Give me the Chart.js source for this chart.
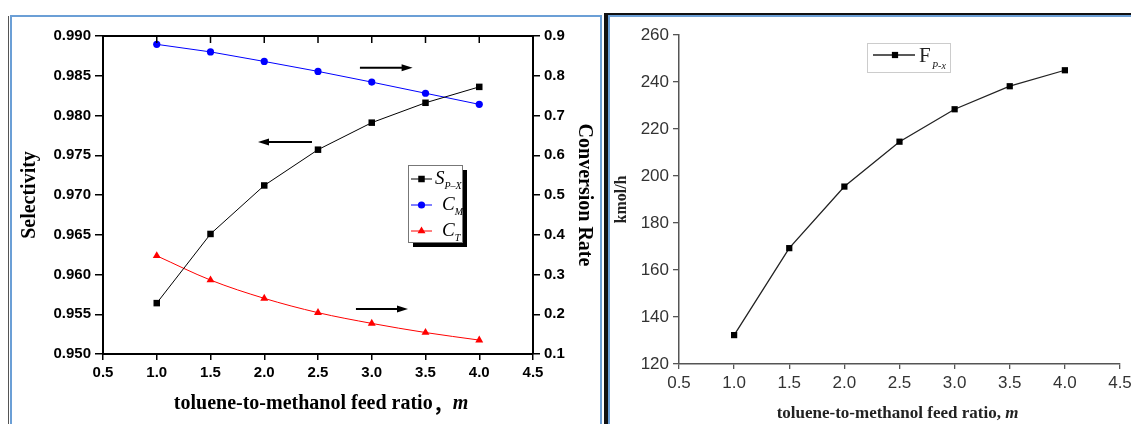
<!DOCTYPE html>
<html>
<head>
<meta charset="utf-8">
<script src="https://cdn.jsdelivr.net/npm/chart.js@4/dist/chart.umd.min.js"></script>
<style>
  body { margin: 0; width: 1131px; height: 424px; overflow: hidden; background: #fff; position: relative; }
  .f { position: absolute; }
  canvas { position: absolute; top: 0; }
</style>
</head>
<body>
<!-- panel frames -->
<div class="f" style="left:8px;top:16px;width:1px;height:408px;background:#555"></div>
<div class="f" style="left:10px;top:15px;width:2px;height:409px;background:#6b9fd6"></div>
<div class="f" style="left:10px;top:15px;width:592px;height:2px;background:#6b9fd6"></div>
<div class="f" style="left:600px;top:15px;width:2px;height:409px;background:#6b9fd6"></div>
<div class="f" style="left:604px;top:13px;width:4px;height:411px;background:#111"></div>
<div class="f" style="left:604px;top:13px;width:527px;height:2px;background:#111"></div>
<div class="f" style="left:608px;top:15px;width:523px;height:2px;background:#6b9fd6"></div>
<div class="f" style="left:608px;top:15px;width:2px;height:409px;background:#6b9fd6"></div>

<canvas id="leftChart" width="600" height="424" style="left:0"></canvas>
<canvas id="rightChart" width="540" height="424" style="left:610px"></canvas>

<script>
// toluene-to-methanol feed ratio m
const ratio = [1.0, 1.5, 2.0, 2.5, 3.0, 3.5, 4.0];
// left chart: selectivity (left axis) and conversion rates (right axis)
const selectivityPX = [0.9564, 0.9651, 0.9712, 0.9757, 0.9791, 0.9816, 0.9836];
const conversionM = [0.879, 0.860, 0.836, 0.811, 0.784, 0.756, 0.728];
const conversionT = [0.347, 0.286, 0.240, 0.204, 0.177, 0.154, 0.135];
// right chart: P-xylene flow, kmol/h
const flowPX = [132.3, 169.3, 195.5, 214.6, 228.4, 238.2, 245.0];

const ratioTicks = [0.5, 1.0, 1.5, 2.0, 2.5, 3.0, 3.5, 4.0, 4.5];
const selectivityTicks = [0.950, 0.955, 0.960, 0.965, 0.970, 0.975, 0.980, 0.985, 0.990];
const conversionTicks = [0.1, 0.2, 0.3, 0.4, 0.5, 0.6, 0.7, 0.8, 0.9];
const flowTicks = [120, 140, 160, 180, 200, 220, 240, 260];

const leftLegendMain = ['S', 'C', 'C'];
const leftLegendSub = ['P\u2013X', 'M', 'T'];

const SANS = "'Liberation Sans', Arial, sans-serif";
const SERIF = "'Liberation Serif', 'Times New Roman', 'Noto Sans CJK SC', serif";

function pts(ys) {
    return ratio.map((x, i) => ({ x: x, y: ys[i] }));
}

function setTicks(list) {
    return s => { s.ticks = list.map(v => ({ value: v })); };
}

function drawRuns(ctx, runs, cx, cy, color) {
    let total = 0;
    runs.forEach(r => { ctx.font = r.font; r.w = ctx.measureText(r.text).width; total += r.w; });
    let x = cx - total / 2;
    ctx.fillStyle = color;
    ctx.textBaseline = 'middle';
    ctx.textAlign = 'left';
    runs.forEach(r => { ctx.font = r.font; ctx.fillText(r.text, x, cy); x += r.w; });
}

function marker(ctx, style, x, y, r, color) {
    ctx.fillStyle = color;
    ctx.beginPath();
    if (style === 'rect') {
        const s = r * Math.SQRT1_2;
        ctx.rect(x - s, y - s, 2 * s, 2 * s);
    } else if (style === 'triangle') {
        ctx.moveTo(x, y - r);
        ctx.lineTo(x + r * 0.866, y + r * 0.5);
        ctx.lineTo(x - r * 0.866, y + r * 0.5);
        ctx.closePath();
    } else {
        ctx.arc(x, y, r, 0, Math.PI * 2);
    }
    ctx.fill();
}

function arrow(ctx, x0, x1, y) {
    const dir = Math.sign(x1 - x0);
    ctx.beginPath();
    ctx.moveTo(x0, y);
    ctx.lineTo(x1 - dir * 8, y);
    ctx.stroke();
    ctx.beginPath();
    ctx.moveTo(x1, y);
    ctx.lineTo(x1 - dir * 11, y - 3.5);
    ctx.lineTo(x1 - dir * 11, y + 3.5);
    ctx.closePath();
    ctx.fill();
}

// frame top, inward top ticks, arrows, legend, x title
const leftDecor = {
    id: 'leftDecor',
    afterDraw(chart) {
        const { ctx, chartArea: a, scales } = chart;
        ctx.save();
        ctx.strokeStyle = '#000';
        ctx.lineWidth = 2;
        ctx.beginPath();
        ctx.moveTo(a.left - 1, a.top);
        ctx.lineTo(a.right + 1, a.top);
        ctx.stroke();
        ctx.lineWidth = 1.5;
        ratioTicks.forEach(v => {
            const px = scales.x.getPixelForValue(v);
            ctx.beginPath();
            ctx.moveTo(px, a.top);
            ctx.lineTo(px, a.top + 7);
            ctx.stroke();
        });

        // arrows (x in ratio units, y on selectivity axis)
        const arrows = [[2.89, 3.38, 0.98601], [2.444, 1.942, 0.97667], [2.853, 3.337, 0.95566]];
        ctx.fillStyle = '#000';
        ctx.lineWidth = 2;
        arrows.forEach(([x0, x1, y]) => {
            arrow(ctx, scales.x.getPixelForValue(x0), scales.x.getPixelForValue(x1), scales.y.getPixelForValue(y));
        });

        // legend box with heavy shadow
        ctx.fillStyle = '#000';
        ctx.fillRect(413, 242, 54, 5);
        ctx.fillRect(462, 170, 5, 77);
        ctx.fillStyle = '#fff';
        ctx.fillRect(408, 165, 54, 77);
        ctx.strokeStyle = '#777';
        ctx.lineWidth = 1;
        ctx.strokeRect(408.5, 165.5, 54, 77);
        const rows = [179, 205, 231];
        chart.data.datasets.forEach((ds, i) => {
            const y = rows[i];
            ctx.strokeStyle = ds.borderColor;
            ctx.lineWidth = 1;
            ctx.beginPath();
            ctx.moveTo(411, y);
            ctx.lineTo(432, y);
            ctx.stroke();
            marker(ctx, ds.pointStyle, 421.5, y, ds.pointRadius, ds.borderColor);
            ctx.fillStyle = '#000';
            ctx.textAlign = 'left';
            ctx.textBaseline = 'middle';
            const tx = i === 0 ? 435 : 442;
            ctx.font = 'italic 19px ' + SERIF;
            ctx.fillText(leftLegendMain[i], tx, y);
            const w = ctx.measureText(leftLegendMain[i]).width;
            ctx.font = 'italic 10px ' + SERIF;
            ctx.fillText(leftLegendSub[i], tx + w, y + 7);
        });

        drawRuns(ctx, [
            { text: 'toluene-to-methanol feed ratio', font: 'bold 20px ' + SERIF },
            { text: '\uFF0C', font: "bold 20px 'Noto Sans CJK SC', sans-serif" },
            { text: 'm', font: 'italic bold 20px ' + SERIF }
        ], (a.left + a.right) / 2 + 3, 404, '#000');
        ctx.restore();
    }
};

const rightDecor = {
    id: 'rightDecor',
    afterDraw(chart) {
        const { ctx, chartArea: a } = chart;
        ctx.save();
        ctx.strokeStyle = '#ccc';
        ctx.lineWidth = 1;
        ctx.strokeRect(257.5, 43.5, 83, 29);
        const ds = chart.data.datasets[0];
        ctx.strokeStyle = ds.borderColor;
        ctx.lineWidth = 1.3;
        ctx.beginPath();
        ctx.moveTo(263, 55);
        ctx.lineTo(305, 55);
        ctx.stroke();
        marker(ctx, 'rect', 285, 55, ds.pointRadius, '#000');
        ctx.fillStyle = '#222';
        ctx.textAlign = 'left';
        ctx.textBaseline = 'middle';
        ctx.font = '21px ' + SERIF;
        ctx.fillText('F', 309, 56);
        ctx.font = 'italic 10px ' + SERIF;
        ctx.fillText('P-x', 322, 66);

        drawRuns(ctx, [
            { text: 'toluene-to-methanol feed ratio, ', font: 'bold 17px ' + SERIF },
            { text: 'm', font: 'italic bold 17px ' + SERIF }
        ], (a.left + a.right) / 2 - 2, 414, '#222');
        ctx.restore();
    }
};

const boldTick = { family: SANS, weight: 'bold', size: 15 };

new Chart(document.getElementById('leftChart'), {
    type: 'line',
    data: {
        datasets: [{
            label: 'S P-X',
            data: pts(selectivityPX),
            yAxisID: 'y',
            borderColor: '#000000',
            backgroundColor: '#000000',
            borderWidth: 1,
            pointStyle: 'rect',
            pointRadius: 4.6,
            pointBorderWidth: 0
        }, {
            label: 'C M',
            data: pts(conversionM),
            yAxisID: 'y1',
            borderColor: '#0000ff',
            backgroundColor: '#0000ff',
            borderWidth: 1,
            pointStyle: 'circle',
            pointRadius: 3.6,
            pointBorderWidth: 0
        }, {
            label: 'C T',
            data: pts(conversionT),
            yAxisID: 'y1',
            borderColor: '#ff0000',
            backgroundColor: '#ff0000',
            borderWidth: 1,
            pointStyle: 'triangle',
            pointRadius: 4.6,
            pointBorderWidth: 0,
            cubicInterpolationMode: 'monotone'
        }]
    },
    options: {
        responsive: false,
        animation: false,
        devicePixelRatio: 1,
        layout: { padding: { top: 36, left: 0, right: 0, bottom: 0 } },
        plugins: { legend: { display: false }, tooltip: { enabled: false } },
        scales: {
            x: {
                type: 'linear',
                min: 0.5,
                max: 4.5,
                afterBuildTicks: setTicks(ratioTicks),
                afterFit: s => { s.height = 70; },
                ticks: { callback: v => v.toFixed(1), font: boldTick, color: '#000', padding: 4, maxRotation: 0 },
                grid: { drawOnChartArea: false, tickLength: 6, color: '#000', lineWidth: 1.5 },
                border: { color: '#000', width: 2 }
            },
            y: {
                position: 'left',
                min: 0.95,
                max: 0.99,
                afterBuildTicks: setTicks(selectivityTicks),
                afterFit: s => { s.width = 103; },
                ticks: { callback: v => v.toFixed(3), font: boldTick, color: '#000', padding: 4 },
                grid: { drawOnChartArea: false, tickLength: 8, color: '#000', lineWidth: 1.5 },
                border: { color: '#000', width: 2 },
                title: { display: true, text: 'Selectivity', color: '#000', font: { family: SERIF, weight: 'bold', size: 20 }, padding: { top: 18 } }
            },
            y1: {
                position: 'right',
                min: 0.1,
                max: 0.9,
                afterBuildTicks: setTicks(conversionTicks),
                afterFit: s => { s.width = 67; },
                ticks: { callback: v => v.toFixed(1), font: boldTick, color: '#000', padding: 4 },
                grid: { drawOnChartArea: false, tickLength: 7, color: '#000', lineWidth: 1.5 },
                border: { color: '#000', width: 2 },
                title: { display: true, text: 'Conversion Rate', color: '#000', font: { family: SERIF, weight: 'bold', size: 20 }, padding: { top: 4 } }
            }
        }
    },
    plugins: [leftDecor]
});

const plainTick = { family: SANS, size: 17 };

new Chart(document.getElementById('rightChart'), {
    type: 'line',
    data: {
        datasets: [{
            label: 'F P-x',
            data: pts(flowPX),
            borderColor: '#222222',
            backgroundColor: '#000000',
            borderWidth: 1.3,
            pointStyle: 'rect',
            pointRadius: 4.4,
            pointBorderWidth: 0
        }]
    },
    options: {
        responsive: false,
        animation: false,
        devicePixelRatio: 1,
        layout: { padding: { top: 35, left: 0, right: 30, bottom: 0 } },
        plugins: { legend: { display: false }, tooltip: { enabled: false } },
        scales: {
            x: {
                type: 'linear',
                min: 0.5,
                max: 4.5,
                afterBuildTicks: setTicks(ratioTicks),
                afterFit: s => { s.height = 60; },
                ticks: { callback: v => v.toFixed(1), font: plainTick, color: '#333', padding: 4, maxRotation: 0 },
                grid: { drawOnChartArea: false, tickLength: 5, color: '#555', lineWidth: 1.3 },
                border: { color: '#555', width: 1.5 }
            },
            y: {
                min: 120,
                max: 260,
                afterBuildTicks: setTicks(flowTicks),
                afterFit: s => { s.width = 69; },
                ticks: { callback: v => String(v), font: plainTick, color: '#333', padding: 4 },
                grid: { drawOnChartArea: false, tickLength: 6, color: '#555', lineWidth: 1.3 },
                border: { color: '#555', width: 1.5 },
                title: { display: true, text: 'kmol/h', color: '#222', font: { family: SERIF, weight: 'bold', size: 16 }, padding: { top: 2 } }
            }
        }
    },
    plugins: [rightDecor]
});
</script>
</body>
</html>
